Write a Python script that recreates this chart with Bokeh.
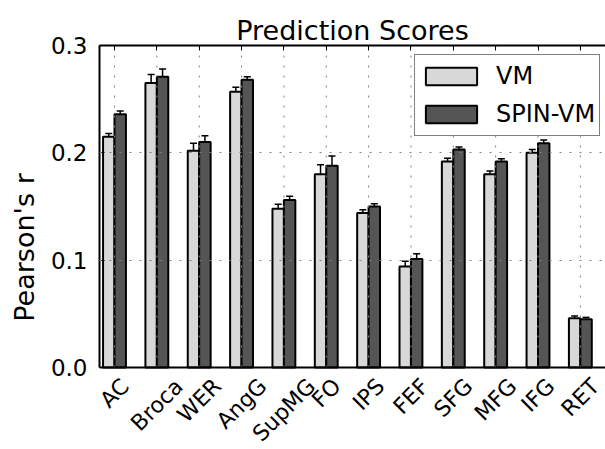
from bokeh.plotting import figure
from bokeh.models import (ColumnDataSource, Range1d, FixedTicker, Whisker, TeeHead, Span,
                          CustomJSTickFormatter, PrintfTickFormatter)
from bokeh.core.properties import value
from bokeh.embed import file_html
from bokeh.resources import INLINE
import math

# ---- data ----
categories = ["AC", "Broca", "WER", "AngG", "SupMG", "FO", "IPS", "FEF", "SFG", "MFG", "IFG", "RET"]
vm = [0.215, 0.265, 0.202, 0.257, 0.148, 0.180, 0.144, 0.094, 0.192, 0.180, 0.200, 0.046]
vm_err = [0.003, 0.008, 0.007, 0.004, 0.004, 0.009, 0.003, 0.005, 0.003, 0.003, 0.003, 0.002]
spin_vm = [0.236, 0.271, 0.210, 0.268, 0.156, 0.188, 0.150, 0.101, 0.203, 0.192, 0.209, 0.045]
spin_vm_err = [0.003, 0.007, 0.006, 0.003, 0.0035, 0.009, 0.0025, 0.005, 0.0025, 0.0025, 0.003, 0.0017]
y_ticks = [0.0, 0.1, 0.2, 0.3]

FONT = "DejaVu Sans"
BW = 0.27
FRAME_W = 506
PXU = 42.35                     # pixels per category step
X0 = -15 / PXU
X1 = X0 + FRAME_W / PXU
Y_TOP = 0.3
PLOT_H = 322                    # pixel height of the 0..0.3 data area
LABEL_H = 82                    # pixel room for the rotated category labels
PXY = PLOT_H / Y_TOP
Y0 = -LABEL_H / PXY

idx = list(range(len(categories)))
x_vm = [i - BW / 2 for i in idx]
x_sp = [i + BW / 2 for i in idx]

p = figure(width=605, height=449, output_backend="svg", toolbar_location=None,
           x_range=Range1d(X0, X1), y_range=Range1d(Y0, Y_TOP), x_axis_location="above",
           min_border_left=99, min_border_right=0, min_border_top=45, min_border_bottom=0)
p.outline_line_color = None
p.background_fill_color = "white"
p.border_fill_color = "white"

p.title.text = "Prediction Scores"
p.title.text_font = FONT
p.title.text_font_size = "27px"
p.title.text_font_style = "normal"
p.title.text_color = "black"
p.title.align = "center"
p.title.offset = 3
p.title.standoff = 0

src_vm = ColumnDataSource(dict(x=x_vm, top=vm, lo=[v - e for v, e in zip(vm, vm_err)],
                               hi=[v + e for v, e in zip(vm, vm_err)]))
src_sp = ColumnDataSource(dict(x=x_sp, top=spin_vm, lo=[v - e for v, e in zip(spin_vm, spin_vm_err)],
                               hi=[v + e for v, e in zip(spin_vm, spin_vm_err)]))

p.vbar(x="x", top="top", width=BW, source=src_vm, fill_color="#d8d8d8", line_color="black",
       line_width=2, legend_label="VM")
p.vbar(x="x", top="top", width=BW, source=src_sp, fill_color="#555555", line_color="black",
       line_width=2, legend_label="SPIN-VM")

# vertical dotted grid (drawn over the bars, limited to the data area)
p.segment(x0=idx, y0=[0] * len(idx), x1=idx, y1=[Y_TOP] * len(idx), line_color="#808080",
          line_dash="2 8", line_width=1)
p.xgrid.visible = False
p.ygrid.ticker = FixedTicker(ticks=[0.1, 0.2])
p.ygrid.grid_line_color = "#808080"
p.ygrid.grid_line_dash = "2 8"
p.ygrid.grid_line_width = 1
p.ygrid.level = "annotation"

for s in (src_vm, src_sp):
    w = Whisker(base="x", lower="lo", upper="hi", source=s, line_color="black", line_width=1.5,
                upper_head=TeeHead(size=7, line_width=1.5, line_color="black"),
                lower_head=TeeHead(size=7, line_width=1.5, line_color="black"))
    p.add_layout(w)

# bottom spine at y = 0
p.add_layout(Span(location=0, dimension="width", line_color="black", line_width=2))

# y axis
ya = p.yaxis[0]
ya.bounds = (0, Y_TOP)
ya.ticker = FixedTicker(ticks=y_ticks)
ya.formatter = PrintfTickFormatter(format="%.1f")
ya.major_label_text_font = FONT
ya.major_label_text_font_size = "23px"
ya.major_label_text_color = "black"
ya.major_tick_in = 5
ya.major_tick_out = 0
ya.minor_tick_line_color = None
ya.major_label_standoff = 12
ya.axis_line_width = 2
ya.axis_line_color = "black"
ya.axis_label = "Pearson's r"
ya.axis_label_text_font = FONT
ya.axis_label_text_font_size = "27px"
ya.axis_label_text_font_style = "normal"
ya.axis_label_text_color = "black"
ya.axis_label_standoff = 8

# top axis (ticks only)
xa = p.xaxis[0]
xa.ticker = FixedTicker(ticks=idx)
xa.formatter = CustomJSTickFormatter(code="return ''")
xa.major_tick_in = 5
xa.major_tick_out = 0
xa.minor_tick_line_color = None
xa.axis_line_width = 2
xa.axis_line_color = "black"
xa.major_label_text_font_size = "1px"
xa.major_label_standoff = 0

# rotated category labels, centred under each group (matplotlib-style)
FS = 22
CW = {"A": .684, "B": .686, "C": .698, "E": .632, "F": .575, "G": .775, "I": .295, "M": .863,
      "O": .787, "P": .603, "R": .695, "S": .635, "T": .611, "W": .989, "a": .613, "c": .550,
      "g": .635, "n": .634, "o": .612, "p": .635, "r": .411, "u": .634}
label_y = []
for c in categories:
    wpx = sum(CW.get(ch, 0.6) for ch in c) * FS - 0.1 * FS
    yc_px = 10 + (wpx + 16) / (2 * math.sqrt(2))
    label_y.append(-yc_px / PXY)
p.text(x=idx, y=label_y, text=categories, angle=math.pi / 4, text_align="center",
       text_baseline="middle", text_font=value(FONT), text_font_size=value(f"{FS}px"),
       text_color="black")

# legend
lg = p.legend[0]
lg.location = (315, 313)
lg.label_text_font = FONT
lg.label_text_font_size = "24px"
lg.label_text_color = "black"
lg.glyph_width = 64
lg.glyph_height = 22
lg.label_height = 34
lg.label_standoff = 13
lg.spacing = 4
lg.padding = 4
lg.margin = 0
lg.border_line_color = "black"
lg.border_line_width = 1.5
lg.background_fill_alpha = 1.0
lg.background_fill_color = "white"

open("out.html", "w").write(file_html(p, INLINE))
